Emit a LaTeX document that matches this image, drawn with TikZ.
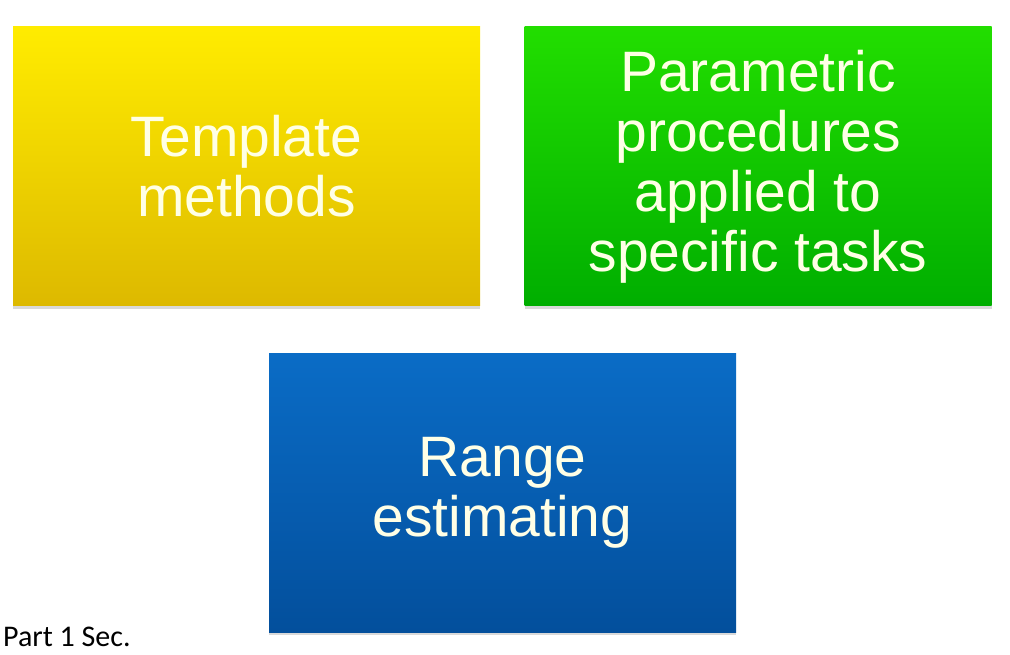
\documentclass[tikz,border=0pt]{standalone}
\usepackage{fontspec}
\setmainfont{Liberation Sans}
\newfontfamily\notefont{Carlito}
\usetikzlibrary{shadows}

\definecolor{tmpltop}{HTML}{FFEC00}
\definecolor{tmplbot}{HTML}{DDB900}
\definecolor{paramtop}{HTML}{22DE00}
\definecolor{parambot}{HTML}{00AE00}
\definecolor{rangetop}{HTML}{0A6CC6}
\definecolor{rangebot}{HTML}{034F9C}
\definecolor{boxtext}{HTML}{FFFFE6}

\begin{document}
\begin{tikzpicture}[x=1pt, y=-1pt,
box/.style={rectangle, minimum width=467pt, minimum height=279pt, inner sep=0pt, align=center, text=boxtext, font=\fontsize{57}{60}\selectfont, drop shadow={shadow xshift=0pt, shadow yshift=-3pt, opacity=0.25, fill=black!60}},
yellowbox/.style={box, top color=tmpltop, bottom color=tmplbot},
greenbox/.style={box, top color=paramtop, bottom color=parambot},
bluebox/.style={box, top color=rangetop, bottom color=rangebot},
note/.style={anchor=base west, inner sep=0pt, font=\notefont\fontsize{30}{36}\selectfont},
]
\useasboundingbox (0,0) rectangle (1010,655);
\node (tmpl) [yellowbox] at (246.5,166.5) {Template\\methods};
\node (param) [greenbox] at (758,166.5) {Parametric\\procedures\\applied to\\specific tasks};
\node (range) [bluebox] at (502.5,492.5) {Range\\estimating};
\node (part) [note] at (3,646) {Part 1 Sec.};
\end{tikzpicture}
\end{document}
